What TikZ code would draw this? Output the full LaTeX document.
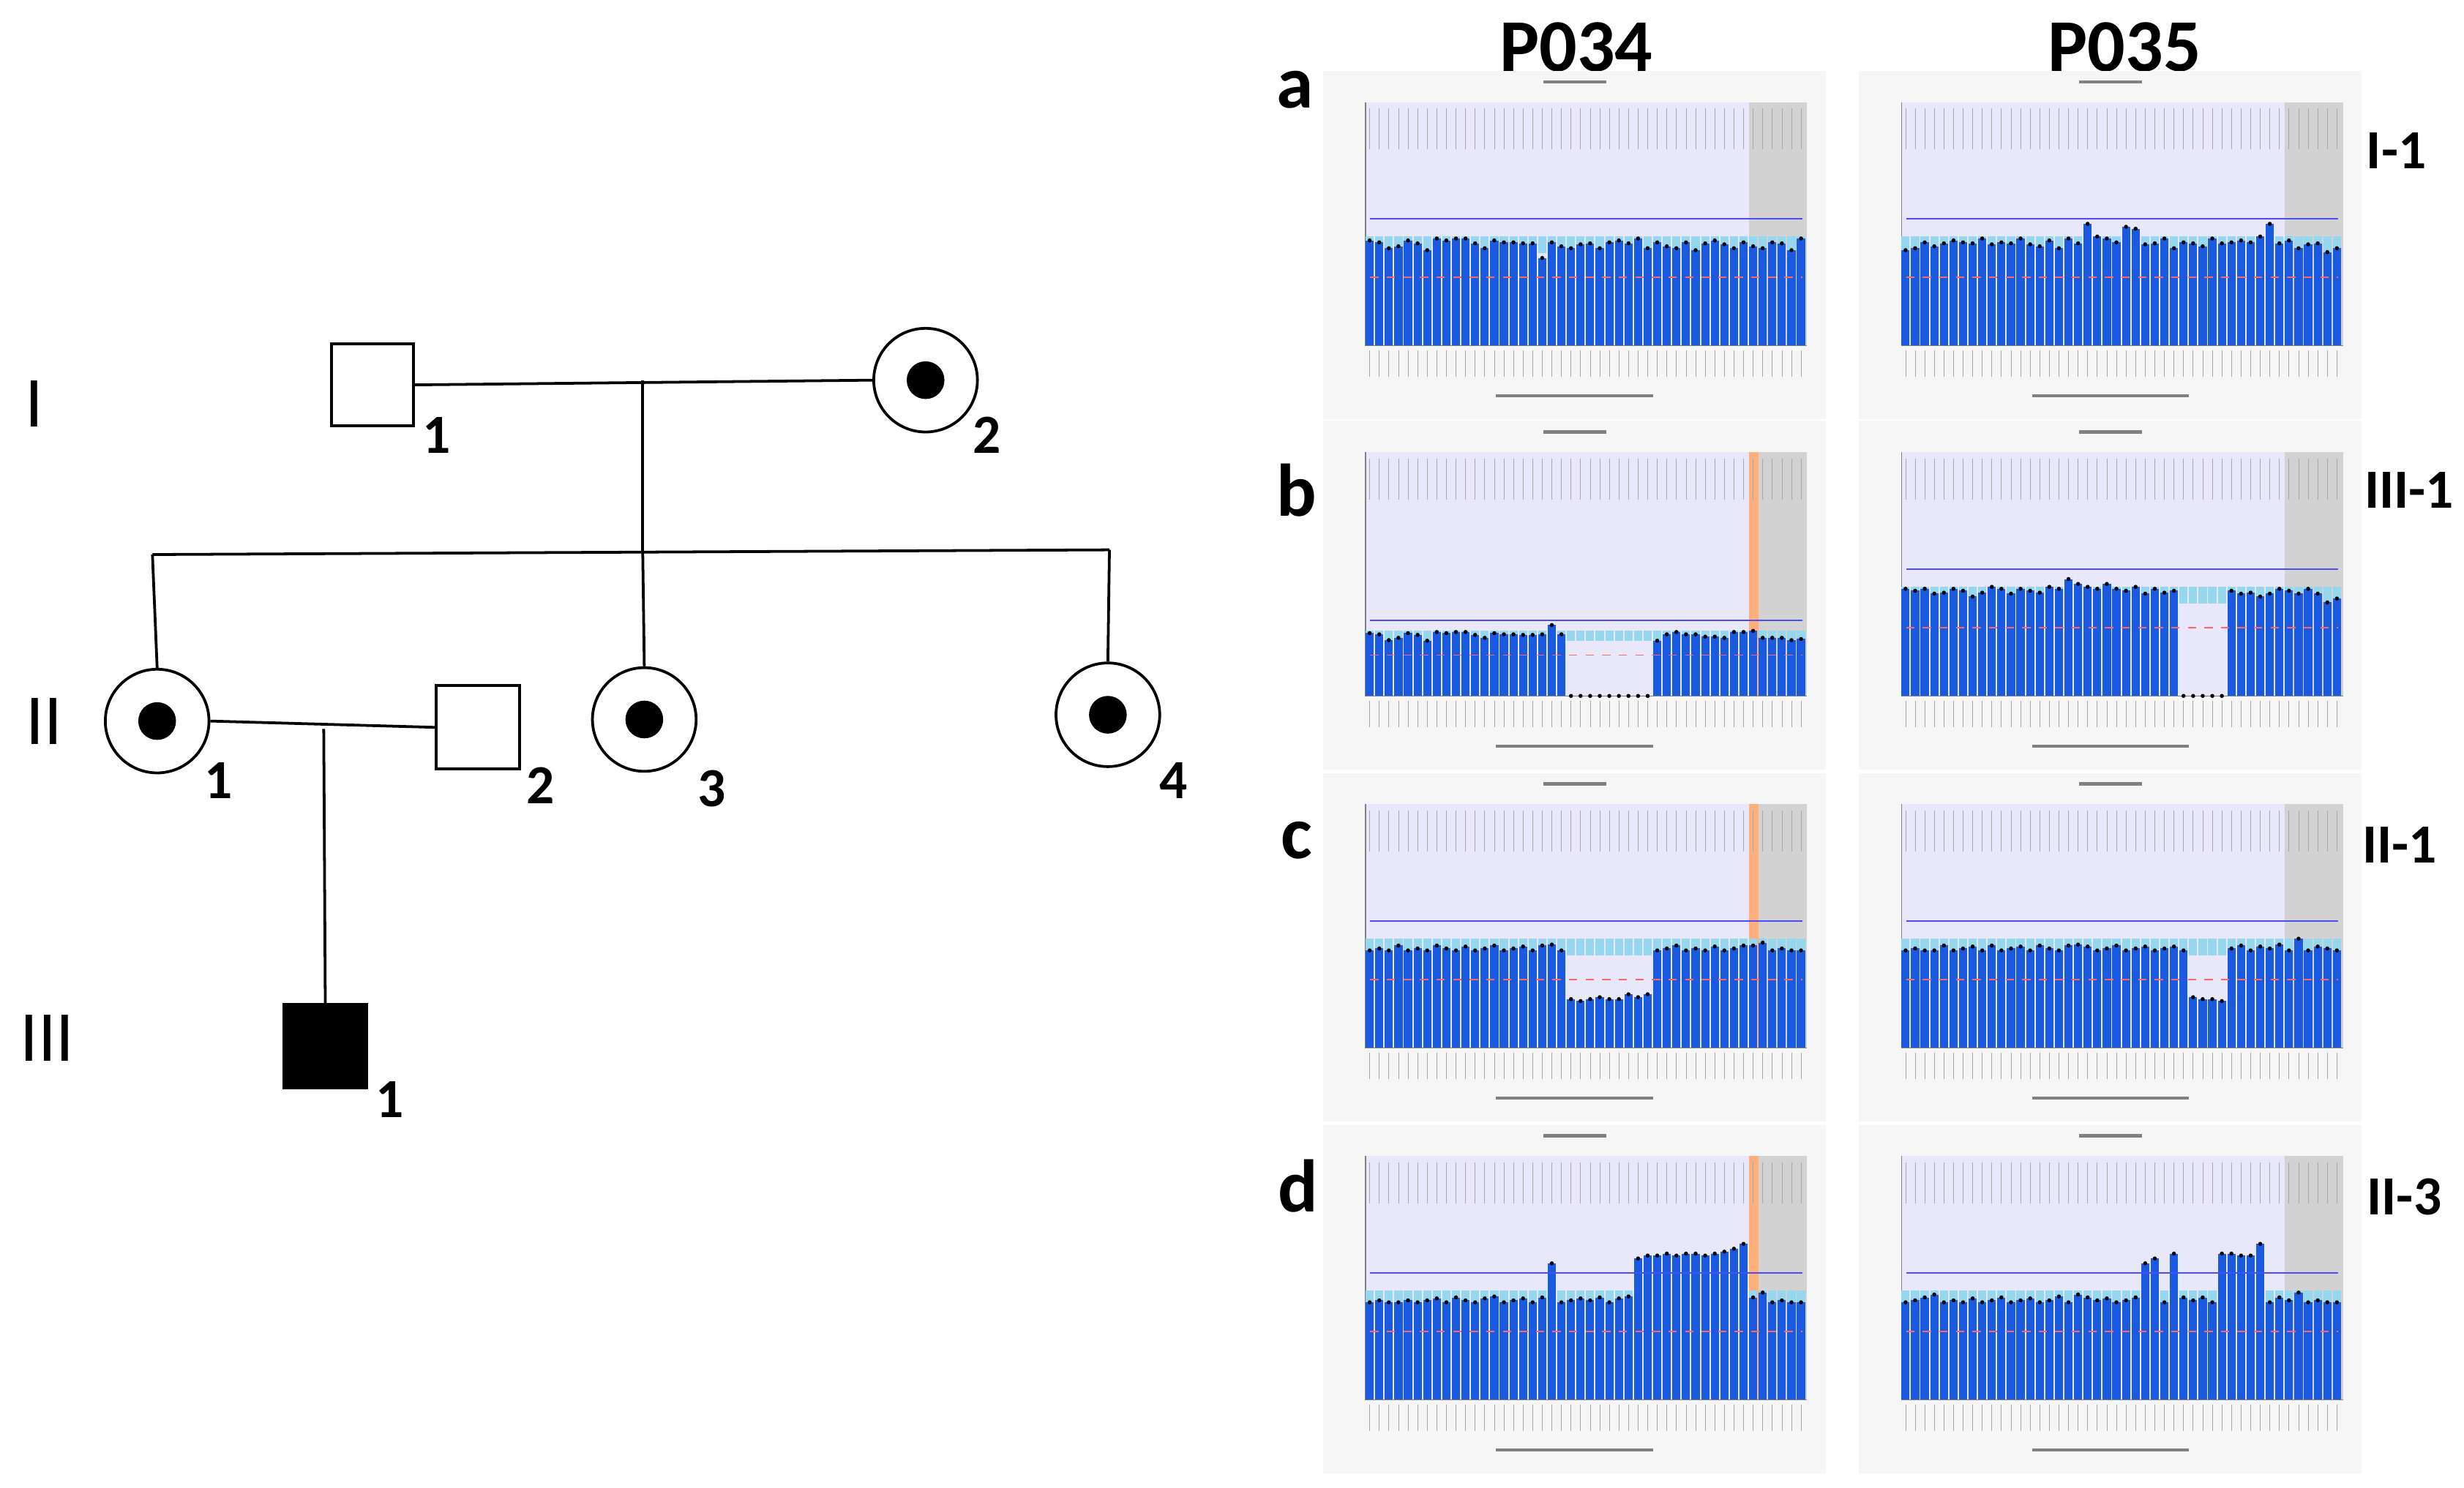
\documentclass[tikz,border=0pt]{standalone}
\usepackage{fontspec}
\setmainfont{Carlito}
\definecolor{barblue}{RGB}{26,90,224}
\definecolor{lav}{RGB}{232,232,250}
\definecolor{gry}{RGB}{210,210,210}
\definecolor{org}{RGB}{255,176,122}
\definecolor{pnl}{RGB}{246,246,246}
\definecolor{lblue}{RGB}{150,215,240}
\newcommand\mychart[6]{%
  % #1 x0, #2 y0, #3 scale, #4 list, #5 orange index, #6 grey start index
  \fill[pnl] (#1,#2) rectangle ++(320,222);
  \fill[lav] ({#1+27},{#2+20}) rectangle ({#1+308},{#2+175});
  \fill[gry] ({#1+27+(#6-1)*6.1},{#2+20}) rectangle ({#1+308},{#2+175});
  \ifnum#5>0 \fill[org] ({#1+27+(#5-1)*6.1},{#2+20}) rectangle ({#1+27+#5*6.1},{#2+175});\fi
  \draw[thin,gray] ({#1+27},{#2+20}) -- ({#1+27},{#2+175}) -- ({#1+308},{#2+175});
  \foreach \h [count=\i] in {#4}{
    \fill[lblue] ({#1+27+(\i-1)*6.1},{#2+175-1.12*#3}) rectangle ({#1+27+(\i-1)*6.1+5.2},{#2+175-0.95*#3});
    \fill[barblue] ({#1+27+(\i-1)*6.1},{#2+175}) rectangle ({#1+27+(\i-1)*6.1+5.2},{#2+175-\h*#3});
    \fill[black] ({#1+29.6+(\i-1)*6.1},{#2+175-\h*#3}) circle (1.3);
  }
  \draw[blue!70,line width=0.5pt] ({#1+30},{#2+175-1.3*#3}) -- ({#1+305},{#2+175-1.3*#3});
  \draw[red!60,dashed,line width=0.4pt] ({#1+30},{#2+175-0.7*#3}) -- ({#1+305},{#2+175-0.7*#3});
  \foreach \k in {0,...,45}{\draw[gray!70,line width=0.2pt] ({#1+29.6+\k*6.1},{#2+178}) -- ({#1+29.6+\k*6.1},{#2+195});
    \draw[gray!70,line width=0.2pt] ({#1+29.6+\k*6.1},{#2+24}) -- ({#1+29.6+\k*6.1},{#2+50});}
  \fill[gray] ({#1+140},{#2+6}) rectangle ++(40,2);
  \fill[gray] ({#1+110},{#2+206}) rectangle ++(100,2);
}
\begin{document}
\begin{tikzpicture}[x=0.02cm,y=-0.02cm,
  ped/.style={draw,line width=1pt},
  gen/.style={font=\fontsize{26}{28}\selectfont},
  idx/.style={font=\bfseries\fontsize{20}{22}\selectfont},
  hdr/.style={font=\bfseries\fontsize{27}{29}\selectfont},
  rlab/.style={font=\bfseries\fontsize{20}{22}\selectfont}]
\useasboundingbox (0,0) rectangle (1568,947);
% pedigree
\node[gen] (gI) at (22,257) {I};
\node[gen] (gII) at (28,459) {II};
\node[gen] (gIII) at (30,661) {III};
\node[ped,minimum size=1.04cm,inner sep=0] (i1) at (237,245) {};
\node[ped,circle,minimum size=1.32cm,inner sep=0] (i2) at (589,242) {};
\fill (i2.center) circle (12);
\node[idx] at (278,277) {1};
\node[idx] at (628,277) {2};
\coordinate (m1) at (409,242);
\draw[ped] (i1.east) -- (i2.west);
\draw[ped] (m1) -- (409,351);
\draw[ped] (97,353) -- (706,350);
\node[ped,circle,minimum size=1.32cm,inner sep=0] (ii1) at (100,459) {};
\node[ped,circle,minimum size=1.32cm,inner sep=0] (ii3) at (410,458) {};
\node[ped,circle,minimum size=1.32cm,inner sep=0] (ii4) at (705,455) {};
\foreach \n in {ii1,ii3,ii4} \fill (\n.center) circle (12);
\node[ped,minimum size=1.06cm,inner sep=0] (ii2) at (304,463) {};
\draw[ped] (97,353) -- (ii1.north);
\draw[ped] (409,351) -- (ii3.north);
\draw[ped] (706,350) -- (ii4.north);
\draw[ped] (ii1.east) -- (ii2.west);
\node[idx] at (139,497) {1};
\node[idx] at (344,500) {2};
\node[idx] at (453,502) {3};
\node[idx] at (747,497) {4};
\node[ped,fill=black,minimum size=1.06cm,inner sep=0] (iii1) at (207,666) {};
\draw[ped] (206,464) -- (iii1.north);
\node[idx] at (248,700) {1};
% headers
\node[hdr] (h1) at (1003,30) {P034};
\node[hdr] (h2) at (1352,30) {P035};
\node[hdr] at (824,57) {a};
\node[hdr] at (825,312) {b};
\node[hdr] at (825,535) {c};
\node[hdr] at (826,755) {d};
\node[rlab] at (1525,96) {I-1};
\node[rlab] at (1533,312) {III-1};
\node[rlab] at (1527,538) {II-1};
\node[rlab] at (1530,762) {II-3};
% charts
\mychart{842}{45}{62}{1.08,1.06,1.0,1.02,1.08,1.05,0.98,1.1,1.08,1.1,1.1,1.05,1.0,1.08,1.06,1.06,1.05,1.05,0.9,1.06,1.02,1.0,1.04,1.05,1.0,1.06,1.08,1.05,1.1,1.0,1.06,1.02,1.0,1.06,0.98,1.05,1.08,1.04,1.0,1.06,1.02,1.0,1.06,1.05,0.98,1.1}{0}{41}
\mychart{1183}{45}{62}{0.98,1.0,1.06,1.02,1.05,1.08,1.06,1.05,1.1,1.04,1.06,1.05,1.1,1.04,1.02,1.08,1.0,1.1,1.05,1.25,1.12,1.1,1.06,1.22,1.2,1.04,1.05,1.1,1.0,1.06,1.05,1.02,1.1,1.05,1.06,1.08,1.06,1.12,1.25,1.05,1.08,1.0,1.04,1.05,0.96,1.0}{0}{41}
\mychart{842}{268}{37}{1.08,1.06,0.96,1.0,1.08,1.05,0.95,1.1,1.08,1.1,1.1,1.05,1.0,1.08,1.06,1.06,1.05,1.05,1.06,1.22,1.06,0,0,0,0,0,0,0,0,0,0.95,1.06,1.1,1.06,1.06,1.02,1.02,1.0,1.1,1.1,1.12,1.0,1.0,1.0,0.96,0.98}{41}{42}
\mychart{1183}{268}{62}{1.1,1.08,1.1,1.05,1.06,1.1,1.08,1.02,1.06,1.12,1.1,1.05,1.1,1.08,1.06,1.12,1.1,1.2,1.15,1.12,1.1,1.15,1.1,1.08,1.12,1.05,1.1,1.06,1.08,0,0,0,0,0,1.08,1.05,1.06,1.02,1.05,1.1,1.08,1.05,1.1,1.05,0.96,1.0}{0}{41}
\mychart{842}{492}{62}{1.0,1.02,1.0,1.05,1.0,1.02,1.0,1.05,1.02,1.0,1.04,1.0,1.02,1.05,1.0,1.02,1.04,1.0,1.05,1.06,1.0,0.5,0.48,0.5,0.52,0.5,0.5,0.55,0.52,0.55,1.0,1.02,1.05,1.0,1.02,1.0,1.04,1.0,1.02,1.05,1.05,1.08,1.0,1.02,1.0,1.0}{41}{42}
\mychart{1183}{492}{62}{1.0,1.02,1.0,1.0,1.05,1.0,1.02,1.04,1.0,1.05,1.0,1.02,1.04,1.0,1.05,1.02,1.0,1.05,1.06,1.04,1.0,1.02,1.05,1.0,1.02,1.04,1.0,1.02,1.04,1.0,0.52,0.5,0.5,0.48,1.02,1.05,1.0,1.04,1.02,1.06,1.0,1.12,1.0,1.04,1.02,1.0}{0}{41}
\mychart{842}{716}{62}{1.0,1.02,1.0,1.0,1.02,1.0,1.02,1.04,1.0,1.05,1.02,1.0,1.04,1.06,1.0,1.02,1.04,1.0,1.05,1.4,1.0,1.02,1.04,1.02,1.05,1.0,1.04,1.06,1.45,1.48,1.48,1.5,1.48,1.5,1.5,1.48,1.5,1.52,1.55,1.6,1.05,1.1,1.0,1.02,1.0,1.0}{41}{42}
\mychart{1183}{716}{62}{1.0,1.02,1.05,1.08,1.0,1.02,1.0,1.04,1.0,1.02,1.05,1.0,1.02,1.04,1.0,1.02,1.06,1.0,1.08,1.05,1.02,1.04,1.0,1.02,1.05,1.4,1.45,1.0,1.5,1.05,1.02,1.05,1.0,1.5,1.5,1.48,1.48,1.6,1.0,1.05,1.02,1.1,1.0,1.02,1.0,1.0}{0}{41}
\end{tikzpicture}
\end{document}
